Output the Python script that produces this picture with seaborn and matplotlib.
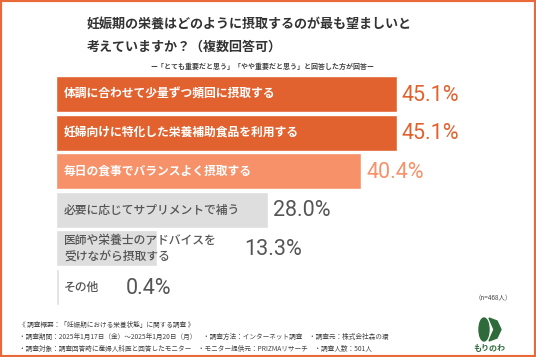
import matplotlib
matplotlib.use("Agg")
import matplotlib.pyplot as plt
import seaborn as sns
import pandas as pd
from matplotlib.patches import Rectangle, Ellipse, Polygon

# data
labels = [
    "体調に合わせて少量ずつ頻回に摂取する",
    "妊婦向けに特化した栄養補助食品を利用する",
    "毎日の食事でバランスよく摂取する",
    "必要に応じてサプリメントで補う",
    "医師や栄養士のアドバイスを\n受けながら摂取する",
    "その他",
]
values = [45.1, 45.1, 40.4, 28.0, 13.3, 0.4]
value_labels = ["45.1%", "45.1%", "40.4%", "28.0%", "13.3%", "0.4%"]

bar_colors = ["#E2622F", "#E2622F", "#F69169", "#DEDEDE", "#DEDEDE", "#DEDEDE"]
label_colors = ["white", "white", "white", "#555555", "#555555", "#555555"]
value_colors = ["#E2622F", "#E2622F", "#F69169", "#555555", "#555555", "#555555"]

sns.set_style("white")
plt.rcParams["font.family"] = ["Noto Sans CJK JP", "DejaVu Sans"]

W, H = 536, 357
fig = plt.figure(figsize=(W / 100, H / 100), dpi=100)
fig.patch.set_facecolor("white")

# axes placed in pixel terms
ax_left, ax_top, ax_w, ax_h = 56, 74.7, 480, 231.6
px_per_pct = 7.56
ax = fig.add_axes([ax_left / W, 1 - (ax_top + ax_h) / H, ax_w / W, ax_h / H])

df = pd.DataFrame({"label": labels, "value": values})
sns.barplot(data=df, x="value", y="label", hue="label", palette=bar_colors,
            legend=False, width=0.93, ax=ax, saturation=1)
ax.set_xlim(0, ax_w / px_per_pct)
ax.set_ylim(5.5, -0.5)
ax.axis("off")

fig.canvas.draw()
renderer = fig.canvas.get_renderer()
inv = ax.transData.inverted()

for i, (lab, v, vl) in enumerate(zip(labels, values, value_labels)):
    bold = i < 3
    t = ax.text(1.05, i, lab, ha="left", va="center", color=label_colors[i],
                fontsize=8.5, fontweight="bold" if bold else "medium",
                linespacing=1.25)
    bb = t.get_window_extent(renderer)
    lab_end = inv.transform((bb.x1, 0))[0]
    if lab_end > v:
        xpos = lab_end + 27 / px_per_pct
    else:
        xpos = v + 5 / px_per_pct
    ax.text(xpos, i + 0.03, vl, ha="left", va="center",
            color=value_colors[i], fontsize=15.5, family="Roboto")

# title
fig.text(87 / W, 1 - 25 / H, "妊娠期の栄養はどのように摂取するのが最も望ましいと",
         ha="left", va="center", fontsize=9.4, fontweight="bold", color="#333333")
fig.text(87 / W, 1 - 47 / H, "考えていますか？（複数回答可）",
         ha="left", va="center", fontsize=9.4, fontweight="bold", color="#333333")
fig.text(262 / W, 1 - 66 / H, "ー「とても重要だと思う」「やや重要だと思う」と回答した方が回答ー",
         ha="center", va="center", fontsize=5.0, fontweight="bold", color="#444444")

fig.text(512 / W, 1 - 298 / H, "（n=468人）", ha="right", va="center",
         fontsize=4.6, color="#444444")

footer = [
    "《 調査概要：「妊娠期における栄養状態」に関する調査 》",
    "・調査期間：2025年1月17日（金）～2025年1月20日（月）　・調査方法：インターネット調査　・調査元：株式会社森の環",
    "・調査対象：調査回答時に産婦人科医と回答したモニター　・モニター提供元：PRIZMAリサーチ　・調査人数：501人",
]
for k, line in enumerate(footer):
    fig.text(19 / W, 1 - (325 + k * 12.2) / H, line, ha="left", va="center",
             fontsize=4.8, color="#444444")

# logo
green = "#2F6B3A"
def fx(px):
    return px / W
def fy(py):
    return 1 - py / H
fig.patches.append(Ellipse((fx(484), fy(329.5)), 10 / W, 23 / H, color=green,
                           transform=fig.transFigure))
fig.patches.append(Polygon([(fx(489), fy(318)), (fx(497), fy(321)), (fx(501), fy(329.5)),
                            (fx(497), fy(338)), (fx(489), fy(341)), (fx(494), fy(329.5))],
                           closed=True, color=green, transform=fig.transFigure))
fig.text(fx(489), fy(349), "もりのわ", ha="center", va="center", fontsize=5.8,
         fontweight="bold", color=green)

# frame
fig.patches.append(Rectangle((0, 0), 1, 1, fill=False, edgecolor="#E8693A",
                             linewidth=3, transform=fig.transFigure))

fig.savefig("out.png", dpi=100)
